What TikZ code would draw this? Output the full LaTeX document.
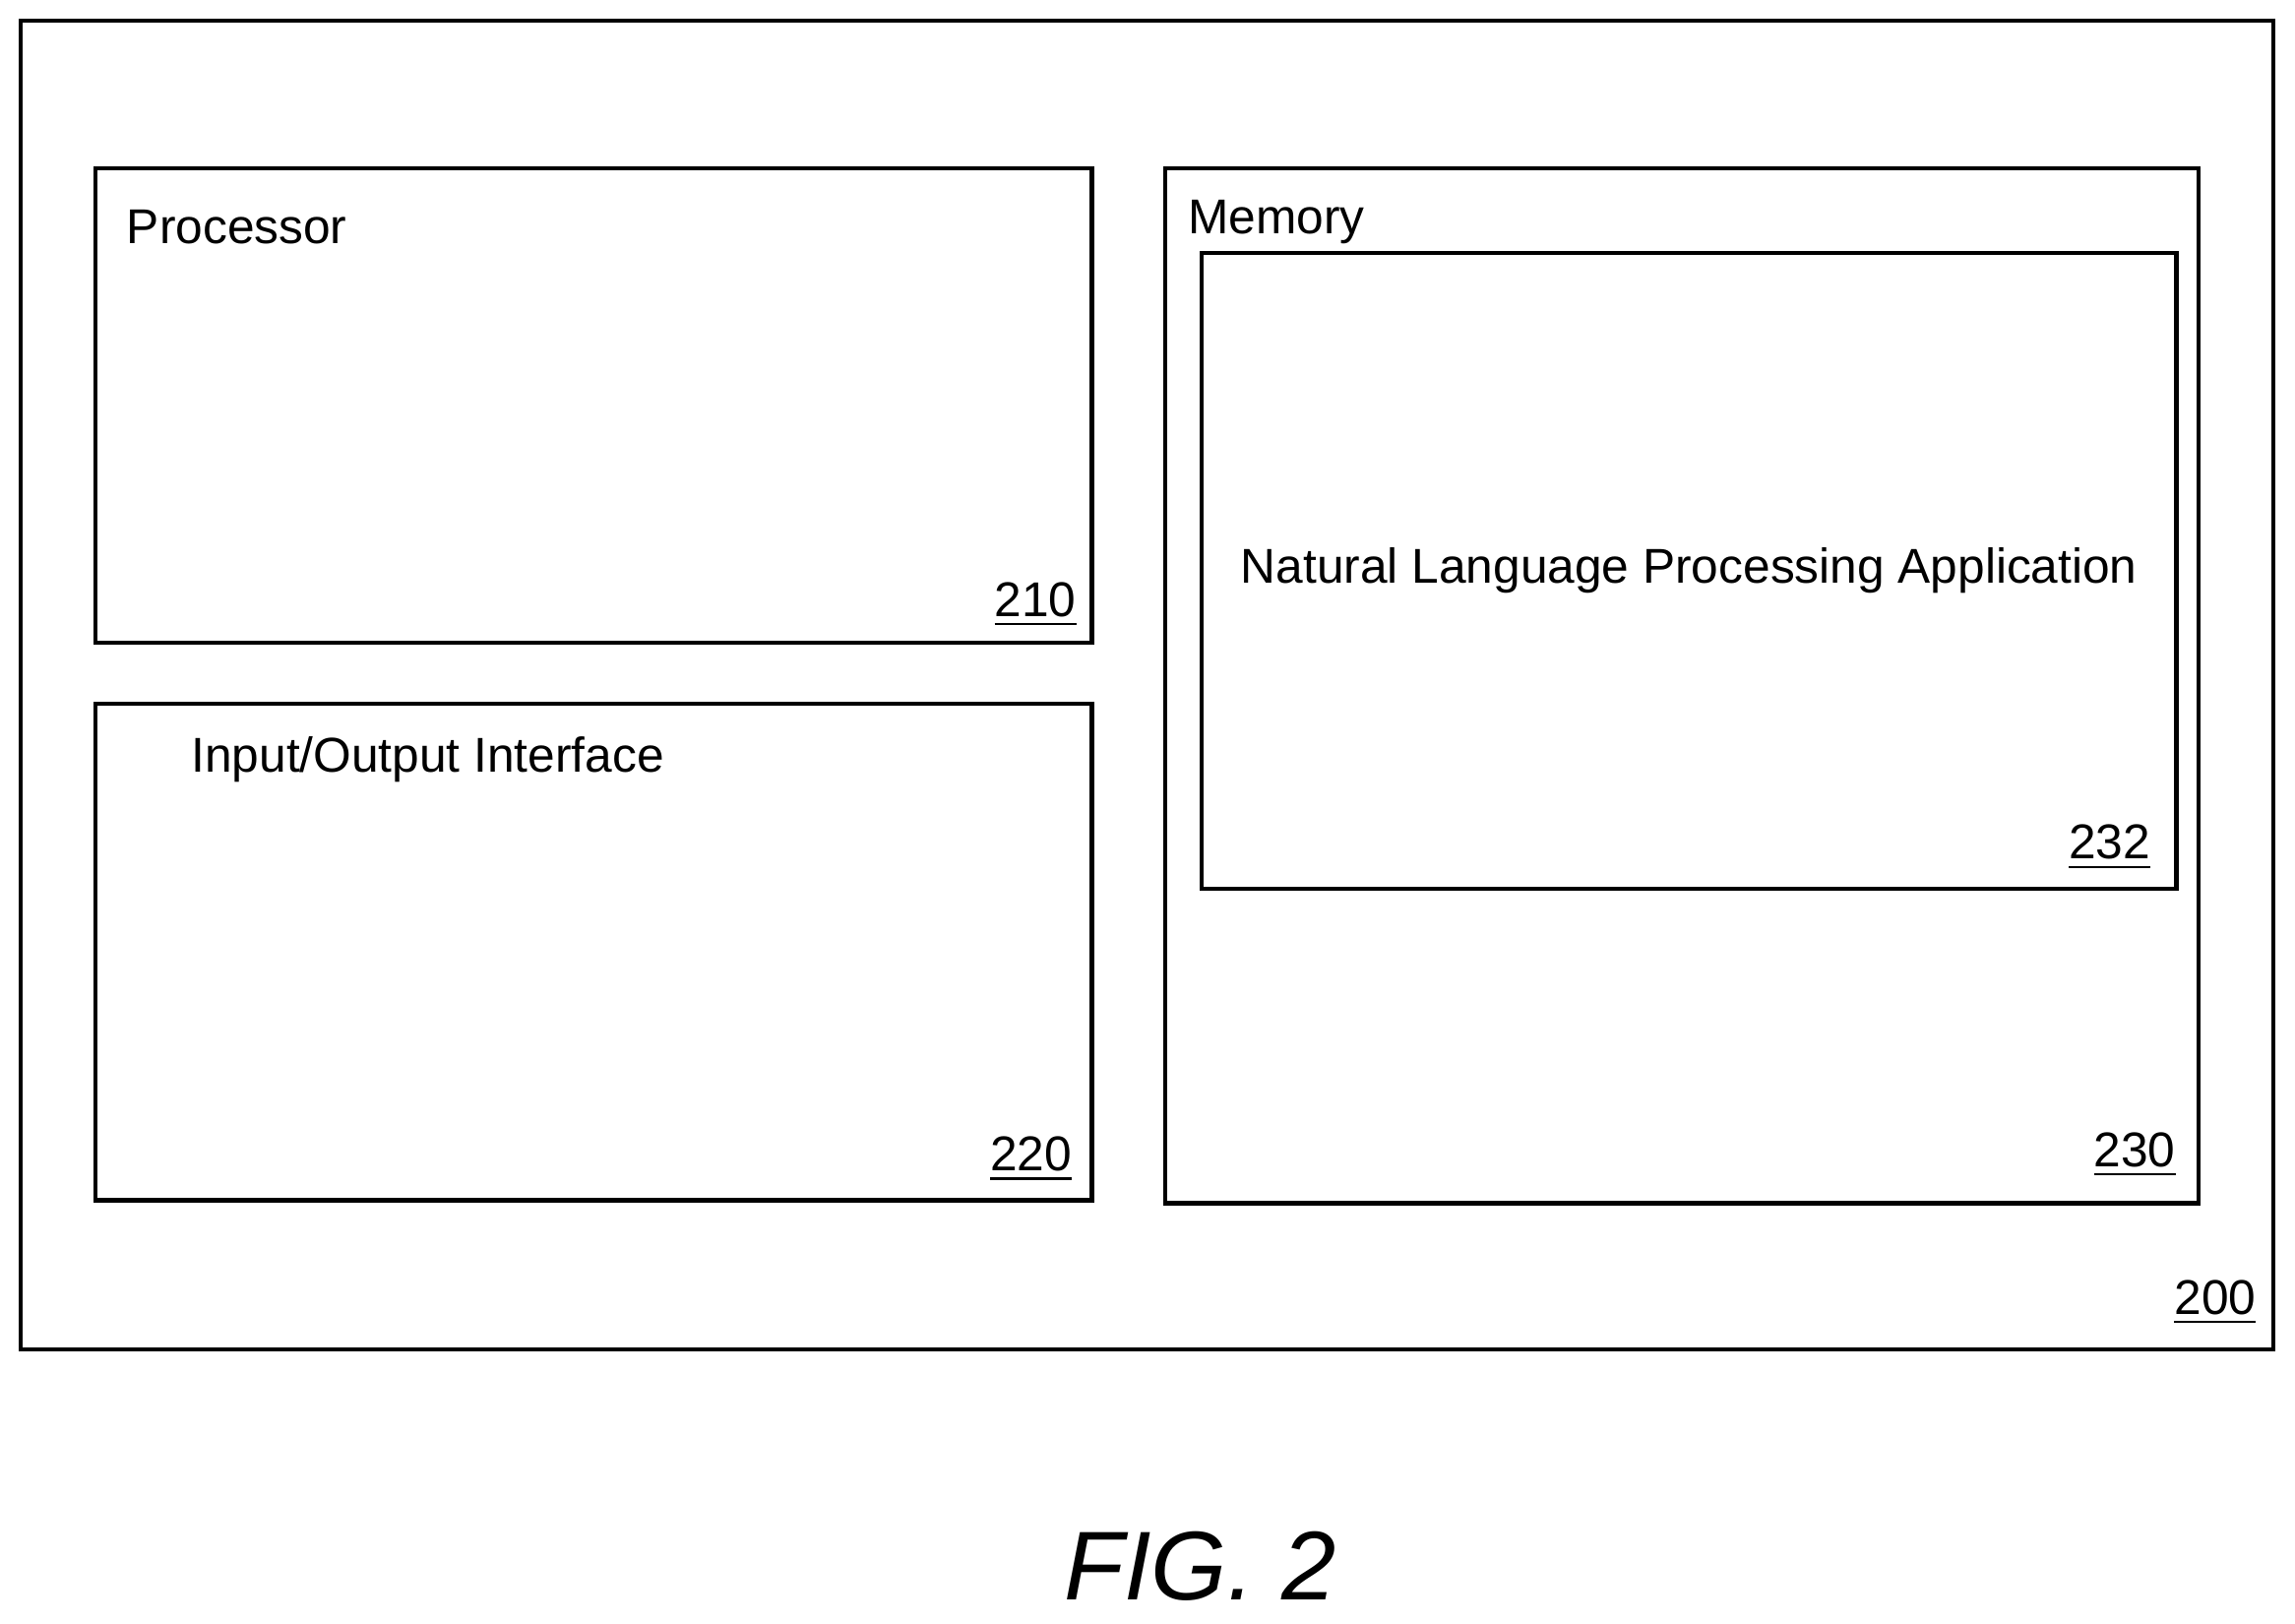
\documentclass[tikz,border=0pt]{standalone}
\usepackage{fontspec}
\setmainfont{Liberation Sans}
\usetikzlibrary{positioning}
\tikzset{
  box/.style={draw, line width=0.8pt, inner sep=0pt},
  title/.style={font=\fontsize{9.5}{11}\selectfont, inner sep=0pt},
  ref/.style={font=\fontsize{9.5}{11}\selectfont, inner sep=0pt, anchor=south east},
}
\begin{document}
\begin{tikzpicture}[x=1cm, y=-1cm]
    \useasboundingbox (0,0) rectangle (15.68,11.09);
    % outer device
    \node[box, minimum width=15.39cm, minimum height=9.08cm] (dev) at (7.835,4.68) {};
    \node[ref] (n200) at (15.42,9.06) {\underline{200}};
    % processor
    \node[box, minimum width=6.81cm, minimum height=3.24cm] (proc) at (4.055,2.77) {};
    \node[title, anchor=west] (proct) at (0.86,1.55) {Processor};
    \node[ref] (n210) at (7.36,4.29) {\underline{210}};
    % input/output
    \node[box, minimum width=6.81cm, minimum height=3.39cm] (io) at (4.055,6.505) {};
    \node[title, anchor=west] (iot) at (1.30,5.19) {Input/Output Interface};
    \node[ref] (n220) at (7.33,8.08) {\underline{220}};
    % memory
    \node[box, minimum width=7.06cm, minimum height=7.07cm] (mem) at (11.49,4.685) {};
    \node[title, anchor=west] (memt) at (8.11,1.52) {Memory};
    \node[ref] (n230) at (14.87,8.05) {\underline{230}};
    % application
    \node[box, minimum width=6.66cm, minimum height=4.34cm] (app) at (11.54,3.90) {};
    \node[title] (appt) at (11.54,3.90) {Natural Language Processing Application};
    \node[ref] (n232) at (14.70,5.95) {\underline{232}};
    % caption
    \node[font=\fontsize{19}{23}\selectfont\itshape, inner sep=0pt] (fig) at (8.20,10.70) {FIG. 2};
\end{tikzpicture}
\end{document}
